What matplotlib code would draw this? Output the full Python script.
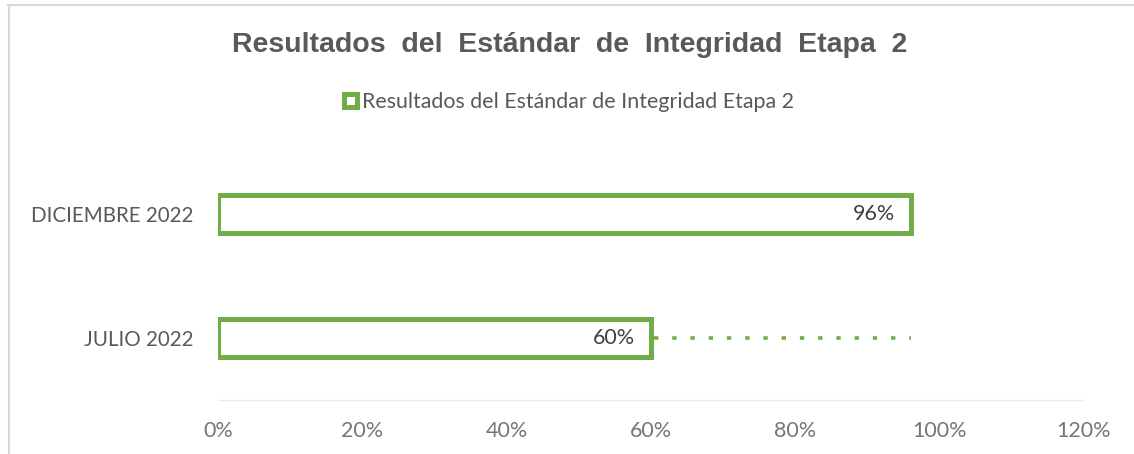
import matplotlib
matplotlib.use("Agg")
import matplotlib.pyplot as plt
from matplotlib.patches import Rectangle
from matplotlib.lines import Line2D

categories = ["JULIO 2022", "DICIEMBRE 2022"]
values = [60, 96]
labels = ["60%", "96%"]
xticks = [0, 20, 40, 60, 80, 100, 120]
xticklabels = ["0%", "20%", "40%", "60%", "80%", "100%", "120%"]
title = "Resultados del Estándar de Integridad Etapa 2"
series_name = "Resultados del Estándar de Integridad Etapa 2"

GREEN = "#70ad47"
TXT = "#595959"
BODY_FONT = ["Lato", "DejaVu Sans"]

fig = plt.figure(figsize=(11.34, 4.54), dpi=100)
ax = fig.add_axes([218/1134, 1-400/454, (1084-218)/1134, (400-152)/454])

ypos = list(range(len(categories)))
ax.barh(ypos, values, height=0.31, color="white", edgecolor=GREEN, linewidth=3.6, zorder=3)
for y, v, lab in zip(ypos, values, labels):
    ax.text(v - 2.2, y, lab, ha="right", va="center", fontsize=15.5, color="#404040",
            family=BODY_FONT, zorder=4)

# dotted connector from July bar end to December value
ax.plot([values[0] + 0.4, values[1]], [ypos[0], ypos[0]], color=GREEN, lw=2.6,
        linestyle=(0, (1.2, 3.85)), zorder=2, solid_capstyle="butt")

ax.set_xlim(0, 120)
ax.set_ylim(-0.5, 1.5)
ax.set_xticks(xticks)
ax.set_xticklabels(xticklabels, family=BODY_FONT, fontsize=15.5, color="#767676")
ax.set_yticks(ypos)
ax.set_yticklabels(categories, family=BODY_FONT, fontsize=14.8, color=TXT)
ax.tick_params(axis="x", length=0, pad=15)
ax.tick_params(axis="y", length=0, pad=18)
for s in ["top", "right", "left"]:
    ax.spines[s].set_visible(False)
ax.spines["bottom"].set_color("#ececec")
ax.spines["bottom"].set_linewidth(1.0)

fig.text(570/1134, 1-45/454, title.replace(" ", "  "), ha="center", va="center",
         family=["Liberation Sans", "DejaVu Sans"], fontweight="bold",
         fontsize=20.5, color=TXT)

# legend
handle = Rectangle((0, 0), 1, 1, facecolor="white", edgecolor=GREEN, linewidth=3.6)
fig.legend([handle], [series_name], loc="center", bbox_to_anchor=(569/1134, 1-102/454),
           frameon=False, prop={"family": BODY_FONT, "size": 15.4},
           labelcolor=TXT, handlelength=0.6, handleheight=0.6, handletextpad=0.25)

# chart frame lines (top and left)
fig.add_artist(Line2D([8/1134, 1], [1-5/454, 1-5/454], transform=fig.transFigure,
                      color="#d9d9d9", lw=1.5))
fig.add_artist(Line2D([8.5/1134, 8.5/1134], [0, 1-5/454], transform=fig.transFigure,
                      color="#d9d9d9", lw=1.5))

fig.savefig("out.png", dpi=100)
